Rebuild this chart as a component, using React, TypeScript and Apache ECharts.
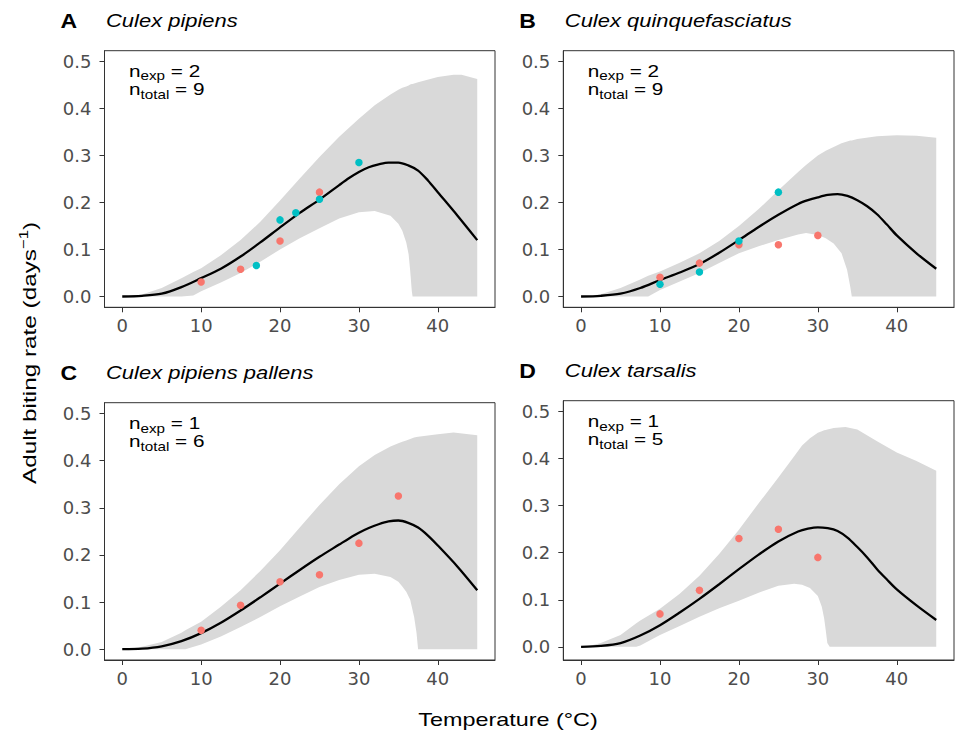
import React, { useEffect, useRef } from "react";
import * as echarts from "echarts";

// ---------- text ----------
const panelLetters = ["A", "B", "C", "D"];
const speciesNames = ["Culex pipiens", "Culex quinquefasciatus", "Culex pipiens pallens", "Culex tarsalis"];
const nExp = [2, 2, 1, 1];
const nTotal = [9, 9, 6, 5];
const xTicks = [0, 10, 20, 30, 40];
const yTicks = [0, 0.1, 0.2, 0.3, 0.4, 0.5];
const xTitle = "Temperature (°C)";
const yTitleMain = "Adult biting rate (days";
const yTitleSup = "−1";

// ---------- credible band (lower / upper) ----------
const bandTempA = [0, 1, 2.5, 5, 7.5, 9, 10, 12.5, 15, 17.5, 20, 22.5, 25, 27.5, 30, 32, 34, 35, 35.5, 36, 36.3, 36.5, 36.7, 36.8, 37.5, 40, 42, 43, 45];
const bandLowerA = [0, 0, 0, 0, 0, 0.002, 0.011, 0.03, 0.05, 0.074, 0.1, 0.124, 0.145, 0.166, 0.179, 0.182, 0.172, 0.155, 0.14, 0.115, 0.09, 0.055, 0.012, 0, 0, 0, 0, 0, 0];
const bandUpperA = [0, 0.001, 0.004, 0.018, 0.039, 0.052, 0.06, 0.088, 0.12, 0.159, 0.204, 0.251, 0.297, 0.34, 0.378, 0.407, 0.43, 0.44, 0.444, 0.447, 0.449, 0.451, 0.452, 0.452, 0.456, 0.467, 0.472, 0.472, 0.463];

const bandTempB = [0, 1, 2.5, 5, 7.5, 8.5, 10, 12.5, 15, 17.5, 20, 22.5, 25, 27.5, 28.5, 30, 31, 32, 33, 33.7, 34.1, 34.3, 35, 37.5, 40, 42.5, 45];
const bandLowerB = [0, 0, 0, 0, 0, 0, 0.014, 0.032, 0.05, 0.071, 0.092, 0.107, 0.12, 0.132, 0.135, 0.131, 0.124, 0.113, 0.092, 0.057, 0.021, 0, 0, 0, 0, 0, 0];
const bandUpperB = [0, 0.001, 0.005, 0.018, 0.036, 0.044, 0.053, 0.072, 0.092, 0.118, 0.15, 0.186, 0.226, 0.265, 0.28, 0.3, 0.31, 0.318, 0.326, 0.33, 0.332, 0.332, 0.335, 0.341, 0.343, 0.342, 0.338];

const bandTempC = [0, 1, 2.5, 5, 7.5, 8, 10, 12.5, 15, 17.5, 20, 22.5, 25, 27.5, 30, 32, 34, 35, 35.5, 36, 36.5, 37, 37.3, 37.5, 40, 42, 45];
const bandLowerC = [0, 0, 0, 0, 0, 0, 0.01, 0.027, 0.047, 0.068, 0.091, 0.112, 0.132, 0.147, 0.158, 0.16, 0.153, 0.143, 0.133, 0.122, 0.105, 0.068, 0.035, 0, 0, 0, 0];
const bandUpperC = [0, 0.001, 0.005, 0.015, 0.035, 0.04, 0.058, 0.09, 0.125, 0.166, 0.21, 0.258, 0.306, 0.35, 0.388, 0.412, 0.43, 0.437, 0.44, 0.443, 0.446, 0.449, 0.45, 0.451, 0.456, 0.46, 0.454];

const bandTempD = [0, 1, 2.5, 5, 7, 7.5, 10, 12.5, 15, 17.5, 20, 22.5, 25, 27, 28, 29, 30, 30.5, 30.8, 31, 31.2, 31.5, 32, 33.5, 35, 37.5, 40, 42.5, 45];
const bandLowerD = [0, 0, 0, 0, 0, 0.003, 0.025, 0.044, 0.064, 0.082, 0.098, 0.115, 0.13, 0.134, 0.132, 0.125, 0.108, 0.085, 0.06, 0.035, 0.008, 0, 0, 0, 0, 0, 0, 0, 0];
const bandUpperD = [0, 0.002, 0.008, 0.025, 0.05, 0.056, 0.081, 0.113, 0.151, 0.197, 0.249, 0.305, 0.36, 0.405, 0.428, 0.443, 0.455, 0.458, 0.46, 0.461, 0.462, 0.463, 0.465, 0.467, 0.462, 0.437, 0.413, 0.395, 0.374];

// ---------- fitted curves ----------
const curveTemp = [0, 2.5, 5, 7.5, 10, 12.5, 15, 17.5, 20, 22.5, 25, 27.5, 28.75, 30, 31.25, 32.5, 33.75, 35, 36.25, 37.5, 38.75, 40, 42.5, 45];
const curveA = [0, 0.0014, 0.006, 0.02, 0.039, 0.059, 0.085, 0.115, 0.147, 0.178, 0.206, 0.237, 0.252, 0.265, 0.275, 0.281, 0.285, 0.285, 0.279, 0.268, 0.247, 0.222, 0.172, 0.12];
const curveB = [0, 0.0015, 0.006, 0.018, 0.035, 0.051, 0.069, 0.093, 0.12, 0.148, 0.174, 0.197, 0.205, 0.211, 0.216, 0.218, 0.214, 0.205, 0.192, 0.175, 0.153, 0.13, 0.092, 0.059];
const curveC = [0, 0.001, 0.006, 0.017, 0.034, 0.056, 0.082, 0.11, 0.139, 0.168, 0.196, 0.222, 0.235, 0.247, 0.257, 0.265, 0.271, 0.273, 0.268, 0.258, 0.241, 0.22, 0.175, 0.125];
const curveD = [0, 0.002, 0.008, 0.024, 0.046, 0.073, 0.102, 0.133, 0.165, 0.196, 0.224, 0.245, 0.251, 0.254, 0.252, 0.246, 0.232, 0.212, 0.19, 0.165, 0.143, 0.122, 0.088, 0.057];

// ---------- observations (temperature, rate) ----------
const redA = [[10, 0.031], [15, 0.058], [20, 0.118], [25, 0.222]];
const tealA = [[17, 0.066], [20, 0.163], [22, 0.178], [25, 0.207], [30, 0.285]];
const redB = [[10, 0.041], [15, 0.071], [20, 0.11], [25, 0.11], [30, 0.13]];
const tealB = [[10, 0.026], [15, 0.052], [20, 0.118], [25, 0.222]];
const redC = [[10, 0.04], [15, 0.093], [20, 0.143], [25, 0.158], [30, 0.225], [35, 0.325]];
const tealC: number[][] = [];
const redD = [[10, 0.07], [15, 0.12], [20, 0.23], [25, 0.25], [30, 0.19]];
const tealD: number[][] = [];

const panels = [
  { band: [bandTempA, bandLowerA, bandUpperA], curve: curveA, red: redA, teal: tealA },
  { band: [bandTempB, bandLowerB, bandUpperB], curve: curveB, red: redB, teal: tealB },
  { band: [bandTempC, bandLowerC, bandUpperC], curve: curveC, red: redC, teal: tealC },
  { band: [bandTempD, bandLowerD, bandUpperD], curve: curveD, red: redD, teal: tealD },
];

// ---------- layout ----------
const layouts = [
  { left: 104.5, top: 50.7, width: 390.5, height: 256.6, yMin: -0.023 },
  { left: 563.3, top: 50.7, width: 390.7, height: 256.6, yMin: -0.023 },
  { left: 104.5, top: 402.7, width: 390.5, height: 257.3, yMin: -0.023 },
  { left: 563.3, top: 400.7, width: 390.7, height: 259.3, yMin: -0.028 },
];
const Y_MAX = 0.523;
const X_MIN = -2.25;
const X_MAX = 47.25;

const RED = "#F8766D";
const TEAL = "#00BFC4";
const BAND = "#D9D9D9";
const FRAME = "#333333";
const TICK_TEXT = "#4D4D4D";
const SX = 1.22;
const SANS = "Liberation Sans";

export default function App() {
  const ref = useRef<HTMLDivElement>(null);

  useEffect(() => {
    if (!ref.current) return;
    const chart = echarts.init(ref.current, null, { renderer: "svg" });

    const grid: any[] = [];
    const xAxis: any[] = [];
    const yAxis: any[] = [];
    const series: any[] = [];
    const graphic: any[] = [];

    layouts.forEach((L, i) => {
      grid.push({
        left: L.left,
        top: L.top,
        width: L.width,
        height: L.height,
        show: true,
        borderColor: FRAME,
        borderWidth: 1,
        backgroundColor: "transparent",
        containLabel: false,
        outerBoundsMode: "none",
      });
      xAxis.push({
        gridIndex: i,
        type: "value",
        min: X_MIN,
        max: X_MAX,
        axisLine: { show: true, onZero: false, lineStyle: { color: FRAME, width: 1 } },
        axisTick: { show: true, length: 5, customValues: xTicks, lineStyle: { color: FRAME, width: 1 } },
        axisLabel: {
          customValues: xTicks,
          color: TICK_TEXT,
          fontFamily: "DejaVu Sans",
          fontSize: 18,
          margin: 9,
        },
        splitLine: { show: false },
      });
      yAxis.push({
        gridIndex: i,
        type: "value",
        min: L.yMin,
        max: Y_MAX,
        axisLine: { show: true, onZero: false, lineStyle: { color: FRAME, width: 1 } },
        axisTick: { show: true, length: 5, customValues: yTicks, lineStyle: { color: FRAME, width: 1 } },
        axisLabel: {
          customValues: yTicks,
          color: TICK_TEXT,
          fontFamily: "DejaVu Sans",
          fontSize: 18,
          margin: 13,
          formatter: (v: number) => v.toFixed(1),
        },
        splitLine: { show: false },
      });

      const P = panels[i];
      const [bt, bl, bu] = P.band;
      series.push({
        type: "custom",
        xAxisIndex: i,
        yAxisIndex: i,
        silent: true,
        z: 1,
        data: bt.map((t, k) => [t, bl[k], bu[k]]),
        encode: { x: 0, y: [1, 2] },
        renderItem: (params: any, api: any) => {
          if (params.dataIndex !== 0) return null;
          const pts: number[][] = [];
          for (let k = 0; k < bt.length; k++) pts.push(api.coord([bt[k], bu[k]]));
          for (let k = bt.length - 1; k >= 0; k--) pts.push(api.coord([bt[k], bl[k]]));
          return { type: "polygon", shape: { points: pts }, style: { fill: BAND, stroke: null } };
        },
      });
      series.push({
        type: "line",
        xAxisIndex: i,
        yAxisIndex: i,
        data: curveTemp.map((t, k) => [t, P.curve[k]]),
        showSymbol: false,
        smooth: 0.3,
        lineStyle: { color: "#000", width: 2.3 },
        z: 3,
        silent: true,
      });
      series.push({
        type: "scatter",
        xAxisIndex: i,
        yAxisIndex: i,
        data: P.red,
        symbolSize: 7.5,
        itemStyle: { color: RED, opacity: 1 },
        z: 4,
        silent: true,
      });
      if (P.teal.length) {
        series.push({
          type: "scatter",
          xAxisIndex: i,
          yAxisIndex: i,
          data: P.teal,
          symbolSize: 7.5,
          itemStyle: { color: TEAL, opacity: 1 },
          z: 4,
          silent: true,
        });
      }

      // panel letter + species title
      graphic.push({
        type: "text",
        x: L.left - 44,
        y: L.top - 30,
        scaleX: 1.15,
        style: {
          text: panelLetters[i],
          font: `bold 20px "${SANS}"`,
          fill: "#000",
          align: "left",
          verticalAlign: "middle",
        },
      });
      graphic.push({
        type: "text",
        x: L.left + 1.5,
        y: L.top - 30,
        scaleX: SX,
        style: {
          text: speciesNames[i],
          font: `italic 18px "${SANS}"`,
          fill: "#000",
          align: "left",
          verticalAlign: "middle",
        },
      });
      // n annotations, top at y = 0.5
      const yTop = L.top + ((Y_MAX - 0.5) / (Y_MAX - L.yMin)) * L.height;
      graphic.push({
        type: "text",
        x: L.left + 24.5,
        y: yTop,
        scaleX: SX,
        style: {
          text: `{n|n}{s|exp}{n| = ${nExp[i]}}\n{n|n}{s|total}{n| = ${nTotal[i]}}`,
          align: "left",
          verticalAlign: "top",
          fill: "#000",
          rich: {
            n: { fontSize: 17, fontFamily: SANS, lineHeight: 18.5, fill: "#000" },
            s: { fontSize: 12.5, fontFamily: SANS, lineHeight: 8, height: 8, verticalAlign: "bottom", fill: "#000" },
          },
        },
      });
    });

    // axis titles
    graphic.push({
      type: "text",
      x: 508,
      y: 720,
      scaleX: 1.23,
      style: {
        text: xTitle,
        font: `19px "${SANS}"`,
        fill: "#000",
        align: "center",
        verticalAlign: "middle",
      },
    });
    graphic.push({
      type: "text",
      x: 29,
      y: 353,
      rotation: Math.PI / 2,
      scaleX: 1.28,
      style: {
        text: `{a|${yTitleMain}}{s|${yTitleSup}}{a|)}`,
        align: "center",
        verticalAlign: "middle",
        fill: "#000",
        rich: {
          a: { fontSize: 19, fontFamily: SANS, lineHeight: 20, fill: "#000" },
          s: { fontSize: 13, fontFamily: SANS, lineHeight: 8, height: 8, verticalAlign: "top", fill: "#000" },
        },
      },
    });

    chart.setOption({
      animation: false,
      backgroundColor: "#fff",
      grid,
      xAxis,
      yAxis,
      series,
      graphic,
    });

    return () => chart.dispose();
  }, []);

  return <div ref={ref} style={{ position: "absolute", left: 0, top: 0, width: 955, height: 734 }} />;
}
